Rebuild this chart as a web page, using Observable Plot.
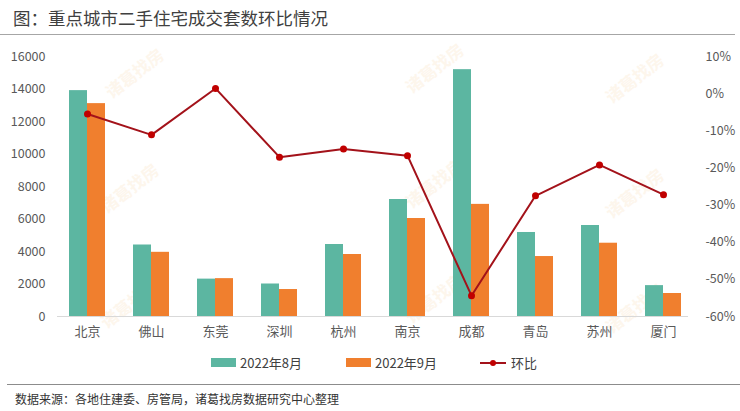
<!DOCTYPE html>
<html>
<head>
<meta charset="utf-8">
<script src="https://cdn.jsdelivr.net/npm/d3@7"></script>
<script src="https://cdn.jsdelivr.net/npm/@observablehq/plot@0.6"></script>
<style>
  html, body { margin: 0; padding: 0; background: #fff; }
  body { width: 740px; height: 411px; overflow: hidden; position: relative;
         font-family: "Noto Sans CJK SC", "Noto Sans", sans-serif; }
  .abs { position: absolute; white-space: nowrap; }
  #title { left: 13px; top: 5px; font-size: 17.5px; color: #404040; line-height: 26px; }
  #tline { left: 0; top: 34px; width: 735px; height: 0; border-top: 1.5px solid #a6a6a6; }
  #chart { left: 0; top: 40px; }
  .wm { color: #f6c98f; opacity: 0.16; font-size: 17px; font-weight: bold; transform: rotate(-38deg); }
  .lg { top: 354px; font-size: 13px; color: #404040; line-height: 17px; }
  .sw { position: absolute; top: 358px; height: 9px; width: 25px; }
  #sline { left: 7px; top: 384px; width: 733px; border-top: 1px solid #8c8c8c; }
  #cap { left: 15px; top: 390px; font-size: 12px; color: #333; line-height: 17px; }
</style>
</head>
<body>
<div id="wms"></div>
<div class="abs" id="title">图：重点城市二手住宅成交套数环比情况</div>
<div class="abs" id="tline"></div>
<div class="abs" id="chart"></div>
<div id="legend"></div>
<div class="abs" id="sline"></div>
<div class="abs" id="cap">数据来源：各地住建委、房管局，诸葛找房数据研究中心整理</div>
<script>
// ---- data ----
const cities = ["北京","佛山","东莞","深圳","杭州","南京","成都","青岛","苏州","厦门"];
const aug2022 = [13900, 4400, 2300, 2000, 4430, 7200, 15190, 5170, 5600, 1900];
const sep2022 = [13100, 3950, 2330, 1660, 3815, 6030, 6900, 3690, 4510, 1415];
const momPct  = [-5.5, -11.1, 1.4, -17.1, -14.9, -16.7, -54.4, -27.5, -19.2, -27.2];
const leftTicks = [0, 2000, 4000, 6000, 8000, 10000, 12000, 14000, 16000];
const rightTicks = [-60, -50, -40, -30, -20, -10, 0, 10];
const seriesNames = ["2022年8月", "2022年9月", "环比"];

const GREEN = "#5cb6a1", ORANGE = "#f07f2e", RED = "#a3121a", RED_DOT = "#c00000";
const LMAX = 16000, RMIN = -60, RMAX = 10;
const toLeft = p => (p - RMIN) / (RMAX - RMIN) * LMAX;
const fromLeft = v => Math.round(v / LMAX * (RMAX - RMIN) + RMIN);

const rows = cities.map((c, i) => ({city: c, aug: aug2022[i], sep: sep2022[i], mom: momPct[i]}));

const chart = Plot.plot({
  width: 740,
  height: 305,
  marginTop: 16,
  marginBottom: 29,
  marginLeft: 54,
  marginRight: 44,
  style: {fontFamily: '"Noto Sans CJK SC", "Noto Sans", sans-serif', fontSize: "12.5px", color: "#595959", background: "transparent"},
  x: {domain: cities, paddingInner: 0.44, paddingOuter: 0.22, label: null},
  y: {domain: [0, LMAX], label: null},
  marks: [
    Plot.axisY({ticks: leftTicks, tickFormat: d => String(d), tickSize: 0, tickPadding: 9, label: null, fontSize: 12.5, fill: "#595959"}),
    Plot.axisY({anchor: "right", ticks: rightTicks.map(toLeft), tickFormat: d => fromLeft(d) + "%",
                tickSize: 0, tickPadding: 9, label: null, fontSize: 12.5, fill: "#595959", textAnchor: "start"}),
    Plot.axisX({tickSize: 0, tickPadding: 10, label: null, fontSize: 13, fill: "#595959"}),
    Plot.barY(rows, {x: "city", y: "aug", fill: GREEN, insetRight: 18}),
    Plot.barY(rows, {x: "city", y: "sep", fill: ORANGE, insetLeft: 18}),
    Plot.ruleY([0], {stroke: "#d9d9d9", strokeWidth: 1.2, insetLeft: 3, insetRight: 8}),
    Plot.line(rows, {x: "city", y: d => toLeft(d.mom), stroke: RED, strokeWidth: 2}),
    Plot.dot(rows, {x: "city", y: d => toLeft(d.mom), r: 3.5, fill: RED_DOT, stroke: "none"})
  ]
});
document.getElementById("chart").appendChild(chart);

// legend
const lg = document.getElementById("legend");
const items = [
  {sw: 211, tx: 240, kind: "bar", color: GREEN, name: seriesNames[0]},
  {sw: 346, tx: 375, kind: "bar", color: ORANGE, name: seriesNames[1]},
  {sw: 480, tx: 511, kind: "line", color: RED, name: seriesNames[2]}
];
for (const it of items) {
  if (it.kind === "bar") {
    const s = document.createElement("div");
    s.className = "sw"; s.style.left = it.sw + "px"; s.style.background = it.color;
    lg.appendChild(s);
  } else {
    const s = document.createElement("div");
    s.className = "abs";
    s.style.left = it.sw + "px"; s.style.top = "362px"; s.style.width = "26px";
    s.style.borderTop = "2px solid " + it.color;
    lg.appendChild(s);
    const d = document.createElement("div");
    d.className = "abs";
    d.style.left = (it.sw + 10) + "px"; d.style.top = "360px"; d.style.width = "6px"; d.style.height = "6px";
    d.style.borderRadius = "50%"; d.style.background = RED_DOT;
    lg.appendChild(d);
  }
  const t = document.createElement("div");
  t.className = "abs lg"; t.style.left = it.tx + "px"; t.textContent = it.name;
  lg.appendChild(t);
}

// faint watermarks
const wms = document.getElementById("wms");
const wmPos = [[100,60],[400,55],[600,65],[95,175],[400,170],[600,180],[95,290],[400,285],[600,295]];
for (const [x, y] of wmPos) {
  const w = document.createElement("div");
  w.className = "abs wm"; w.style.left = x + "px"; w.style.top = y + "px";
  w.textContent = "诸葛找房";
  wms.appendChild(w);
}
</script>
</body>
</html>
